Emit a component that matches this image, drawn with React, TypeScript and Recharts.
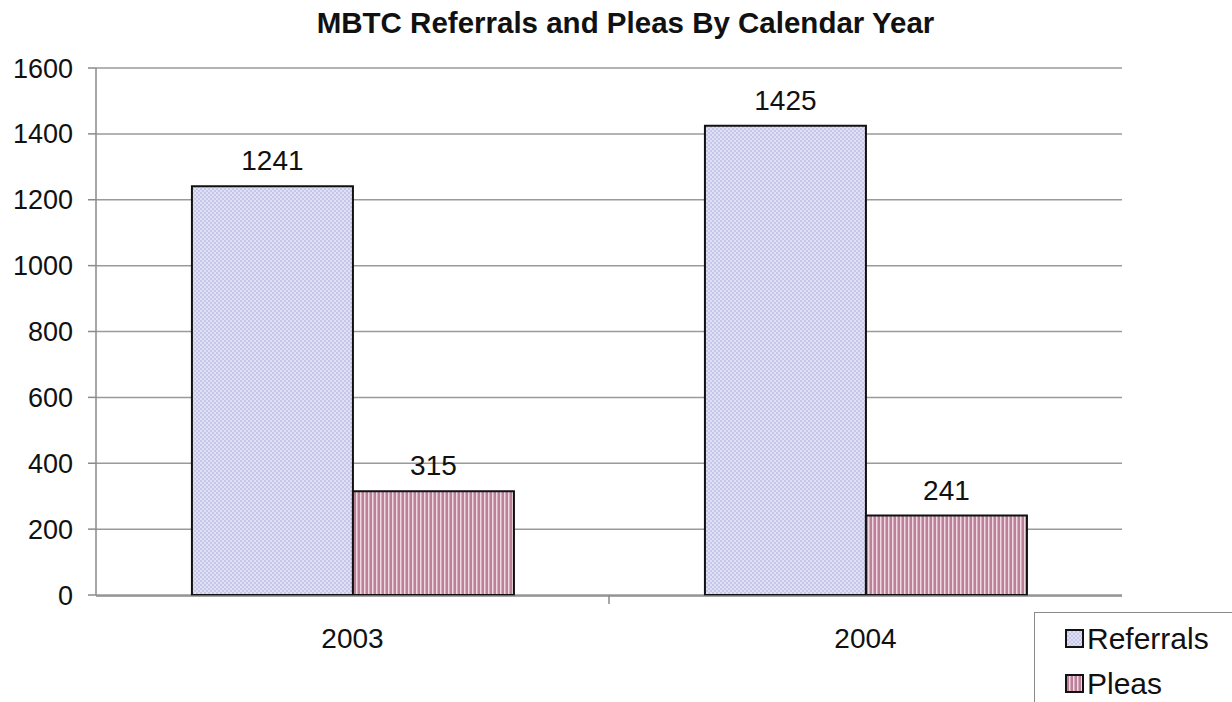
import { BarChart, Bar, XAxis, YAxis, CartesianGrid, LabelList } from "recharts";

const YEARS = ["2003", "2004"];
const REFERRALS = [1241, 1425];
const PLEAS = [315, 241];
const Y_TICKS = [0, 200, 400, 600, 800, 1000, 1200, 1400, 1600];

const data = YEARS.map((year, i) => ({ year, idx: i + 0.5, referrals: REFERRALS[i], pleas: PLEAS[i] }));

const FONT = "Arial, 'Liberation Sans', Helvetica, sans-serif";

const LEGEND_ITEMS = [
  { name: "Referrals", fill: "url(#dots)" },
  { name: "Pleas", fill: "url(#stripes)" },
];

export default function App() {
  return (
    <div style={{ position: "absolute", left: 0, top: 0, width: 1232, height: 702, background: "#fff", overflow: "hidden" }}>
      <div
        style={{
          position: "absolute",
          top: 6,
          left: 0,
          width: 1251,
          textAlign: "center",
          fontFamily: FONT,
          fontWeight: "bold",
          fontSize: 29.5,
          color: "#111",
        }}
      >
        MBTC Referrals and Pleas By Calendar Year
      </div>
      <BarChart
        width={1232}
        height={702}
        data={data}
        margin={{ top: 68, right: 110, bottom: 0, left: 0 }}
        barCategoryGap="18.7%"
        barGap={0}
      >
        <defs>
          <pattern id="dots" width={4} height={4} patternUnits="userSpaceOnUse">
            <rect width={4} height={4} fill="#e0e0f4" />
            <rect width={2} height={2} fill="#c6c6e8" />
            <rect x={2} y={2} width={2} height={2} fill="#c6c6e8" />
          </pattern>
          <pattern id="stripes" width={4} height={4} patternUnits="userSpaceOnUse">
            <rect width={4} height={4} fill="#bc8099" />
            <rect x={0} width={1.5} height={4} fill="#efd8e2" />
          </pattern>
        </defs>
        <CartesianGrid xAxisId="year" vertical={false} stroke="#9a9a9a" strokeWidth={1.5} />
        {/* boundary tick marks between categories */}
        <XAxis
          xAxisId="bounds"
          dataKey="idx"
          type="number"
          domain={[0, YEARS.length]}
          ticks={YEARS.map((_, i) => i + 1).slice(0, -1)}
          tick={() => <g />}
          axisLine={false}
          tickLine={{ stroke: "#8a8a8a", strokeWidth: 1.5 }}
          tickSize={9}
          height={1}
        />
        <XAxis
          xAxisId="year"
          dataKey="year"
          axisLine={{ stroke: "#8a8a8a", strokeWidth: 1.5 }}
          tickLine={false}
          tickMargin={26}
          height={106}
          tick={{ fontSize: 28, fill: "#111", fontFamily: FONT }}
        />
        <YAxis
          width={96}
          domain={[0, 1600]}
          ticks={Y_TICKS}
          interval={0}
          axisLine={{ stroke: "#8a8a8a", strokeWidth: 1.5 }}
          tickLine={{ stroke: "#8a8a8a", strokeWidth: 1.5 }}
          tickSize={8}
          tickMargin={15}
          tick={{ fontSize: 27, fill: "#111", fontFamily: FONT }}
        />
        <Bar xAxisId="year" dataKey="referrals" name="Referrals" fill="url(#dots)" stroke="#111" strokeWidth={2} isAnimationActive={false}>
          <LabelList dataKey="referrals" position="top" offset={16} style={{ fontSize: 28, fill: "#111", fontFamily: FONT }} />
        </Bar>
        <Bar xAxisId="year" dataKey="pleas" name="Pleas" fill="url(#stripes)" stroke="#111" strokeWidth={2} isAnimationActive={false}>
          <LabelList dataKey="pleas" position="top" offset={16} style={{ fontSize: 28, fill: "#111", fontFamily: FONT }} />
        </Bar>
      </BarChart>
      <div
        style={{
          position: "absolute",
          left: 1034,
          top: 612,
          width: 220,
          height: 100,
          border: "1.5px solid #8a8a8a",
          background: "#fff",
          boxSizing: "border-box",
          paddingTop: 3,
          paddingLeft: 30,
          fontFamily: FONT,
          fontSize: 30,
          color: "#111",
        }}
      >
        {LEGEND_ITEMS.map((it) => (
          <div key={it.name} style={{ display: "flex", alignItems: "center", height: 45 }}>
            <svg width={19} height={19} style={{ marginRight: 3 }}>
              <rect x={1} y={1} width={17} height={17} fill={it.fill} stroke="#111" strokeWidth={2} />
            </svg>
            <span>{it.name}</span>
          </div>
        ))}
      </div>
    </div>
  );
}
